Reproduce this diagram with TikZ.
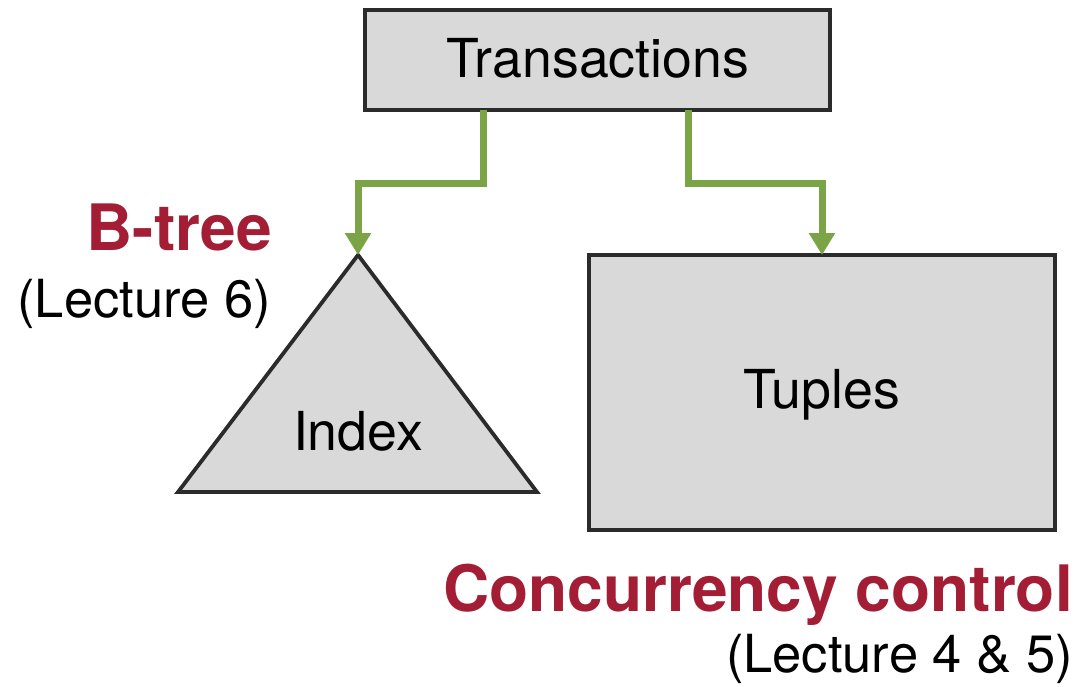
\documentclass[tikz,border=0pt]{standalone}
\usepackage{fontspec}
\setmainfont{TeX Gyre Heros}
\usetikzlibrary{arrows.meta}
\definecolor{boxfill}{HTML}{D9D9D9}
\definecolor{boxline}{HTML}{2B2B2B}
\definecolor{linkgreen}{HTML}{7BA446}
\definecolor{topicred}{HTML}{A31D35}
\tikzset{
  box/.style={draw=boxline, fill=boxfill, line width=3.8pt, inner sep=0pt},
  link/.style={draw=linkgreen, line width=7pt,
               -{Triangle[width=25pt,length=22pt]}},
  topic/.style={text=topicred, font=\fontsize{64}{70}\selectfont\bfseries, inner sep=0pt},
  boxtext/.style={font=\fontsize{53.7}{60}\selectfont, inner sep=0pt},
  lecture/.style={font=\fontsize{52.5}{60}\selectfont, inner sep=0pt}
}
\begin{document}
\begin{tikzpicture}[x=1pt,y=-1pt]
\useasboundingbox (0,0) rectangle (1078,686);

% boxes
\node[box, minimum width=465pt, minimum height=100pt] (trans) at (597.5,60) {};
\node[boxtext, anchor=base] (transtxt) at (598,77) {Transactions};
\node[box, minimum width=466pt, minimum height=275pt] (tuples) at (822,392.5) {};
\node[boxtext, anchor=base] (tuptxt) at (822,408) {Tuples};

% index triangle
\coordinate (apex) at (358,255);
\draw[draw=boxline, fill=boxfill, line width=3.8pt, line join=miter]
  (apex) -- (537,492) -- (178,492) -- cycle;
\node[boxtext, anchor=base] (idx) at (358,450) {Index};

% connectors
\coordinate (t1) at (483,110);
\coordinate (t2) at (688,110);
\coordinate (tupTop) at (822,255);
\path[link] (t1) -- (483,183) -| (apex);
\path[link] (t2) -- (688,183) -| (tupTop);

% labels
\node[topic, anchor=base east] (btree) at (272,250) {B-tree};
\node[lecture, anchor=base east] (lec6) at (271,317) {(Lecture 6)};
\node[topic, anchor=base east] (cc) at (1073,611) {Concurrency control};
\node[lecture, anchor=base east] (lec45) at (1073,672) {(Lecture 4 \& 5)};
\end{tikzpicture}
\end{document}
